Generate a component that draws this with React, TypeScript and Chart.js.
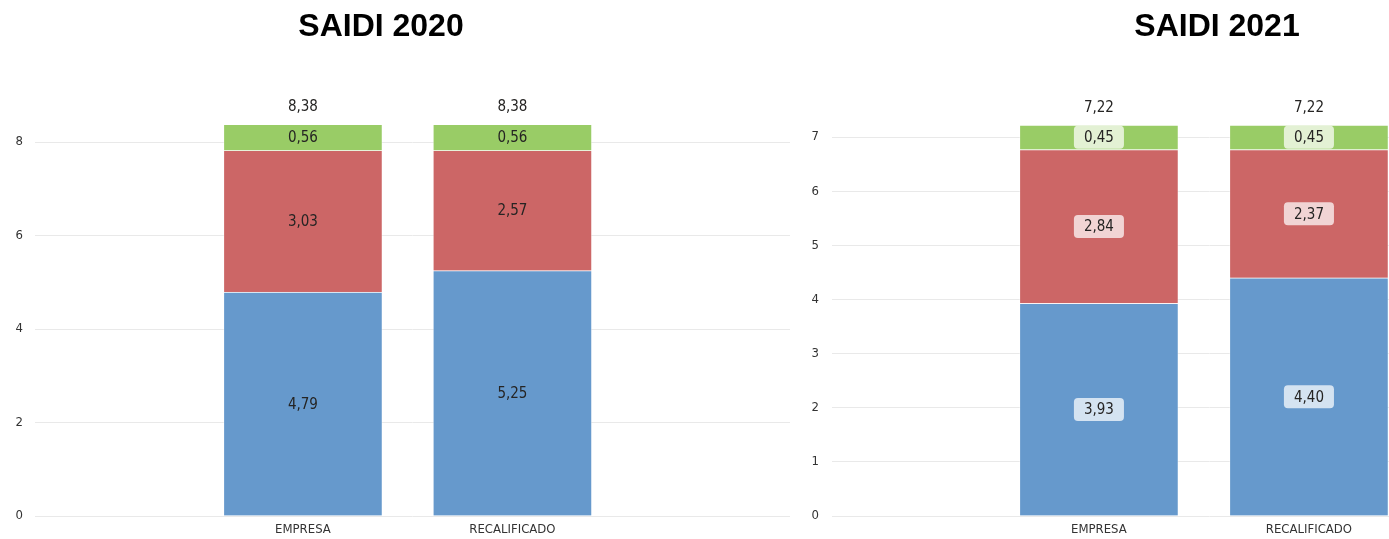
import React, { useEffect, useRef } from "react";
import { Chart, registerables } from "chart.js";

Chart.register(...registerables);

const categories = ["EMPRESA", "RECALIFICADO"];

const title2020 = "SAIDI 2020";
const blue2020 = [4.79, 5.25];
const red2020 = [3.03, 2.57];
const green2020 = [0.56, 0.56];
const yTicks2020 = [0, 2, 4, 6, 8];

const title2021 = "SAIDI 2021";
const blue2021 = [3.93, 4.4];
const red2021 = [2.84, 2.37];
const green2021 = [0.45, 0.45];
const yTicks2021 = [0, 1, 2, 3, 4, 5, 6, 7];

const FONT = "'DejaVu Sans Condensed', 'Liberation Sans Narrow', Roboto, sans-serif";
const COLORS = ["#6699cc", "#cc6666", "#99cc66"];

const fmt = (v: number) => v.toFixed(2).replace(".", ",");

function roundRect(ctx: CanvasRenderingContext2D, x: number, y: number, w: number, h: number, r: number) {
  ctx.beginPath();
  ctx.moveTo(x + r, y);
  ctx.lineTo(x + w - r, y);
  ctx.quadraticCurveTo(x + w, y, x + w, y + r);
  ctx.lineTo(x + w, y + h - r);
  ctx.quadraticCurveTo(x + w, y + h, x + w - r, y + h);
  ctx.lineTo(x + r, y + h);
  ctx.quadraticCurveTo(x, y + h, x, y + h - r);
  ctx.lineTo(x, y + r);
  ctx.quadraticCurveTo(x, y, x + r, y);
  ctx.closePath();
}

function makeLabelPlugin(boxed: boolean) {
  return {
    id: "segLabels",
    afterDatasetsDraw(chart: any) {
      const ctx: CanvasRenderingContext2D = chart.ctx;
      ctx.save();
      ctx.font = `15px ${FONT}`;
      ctx.textAlign = "center";
      ctx.textBaseline = "middle";
      const tops: number[] = [];
      const totals: number[] = [];
      const xs: number[] = [];
      chart.data.datasets.forEach((ds: any, di: number) => {
        const meta = chart.getDatasetMeta(di);
        meta.data.forEach((el: any, i: number) => {
          const v = ds.data[i].y;
          const cy = (el.y + el.base) / 2;
          const txt = fmt(v);
          if (boxed) {
            const w = ctx.measureText(txt).width + 20;
            const h = 23;
            ctx.fillStyle = "rgba(255,255,255,0.72)";
            roundRect(ctx, el.x - w / 2, cy - h / 2, w, h, 4);
            ctx.fill();
          }
          ctx.fillStyle = "#252423";
          ctx.fillText(txt, el.x, cy + 1);
          tops[i] = tops[i] === undefined ? el.y : Math.min(tops[i], el.y);
          totals[i] = (totals[i] || 0) + v;
          xs[i] = el.x;
        });
      });
      ctx.fillStyle = "#252423";
      tops.forEach((t, i) => {
        ctx.fillText(fmt(totals[i]), xs[i], t - 17);
      });
      ctx.restore();
    },
  };
}

type Cfg = {
  blue: number[];
  red: number[];
  green: number[];
  yTicks: number[];
  yMax: number;
  padTop: number;
  yAxisWidth: number;
  yPad: number;
  xMin: number;
  xMax: number;
  boxed: boolean;
};

function StackChart(props: Cfg & { style: React.CSSProperties; width: number; height: number }) {
  const ref = useRef<HTMLCanvasElement | null>(null);
  useEffect(() => {
    if (!ref.current) return;
    const series = [props.blue, props.red, props.green];
    const chart = new Chart(ref.current, {
      type: "bar",
      data: {
        datasets: series.map((s, si) => ({
          label: ["s1", "s2", "s3"][si],
          data: s.map((v, i) => ({ x: i, y: v })),
          backgroundColor: COLORS[si],
          borderColor: "rgba(255,255,255,0.35)",
          borderWidth: 1,
          barThickness: 159,
        })),
      } as any,
      options: {
        responsive: false,
        animation: false,
        layout: { padding: { top: props.padTop, right: 0, left: 0, bottom: 0 } },
        plugins: { legend: { display: false }, tooltip: { enabled: false } },
        scales: {
          x: {
            type: "linear",
            stacked: true,
            offset: false,
            min: props.xMin,
            max: props.xMax,
            grid: { display: false, drawTicks: false },
            border: { display: false },
            afterBuildTicks: (scale: any) => {
              scale.ticks = categories.map((_, i) => ({ value: i }));
            },
            afterFit: (scale: any) => {
              scale.height = 23;
            },
            ticks: {
              padding: 6,
              maxRotation: 0,
              autoSkip: false,
              color: "#333333",
              font: { family: FONT, size: 13 },
              callback: (v: any) => categories[Math.round(Number(v))] ?? "",
            },
          },
          y: {
            stacked: true,
            min: 0,
            max: props.yMax,
            grid: { color: "#e9e9e9", lineWidth: 1, drawTicks: false },
            border: { display: false },
            afterBuildTicks: (scale: any) => {
              scale.ticks = props.yTicks.map((v) => ({ value: v }));
            },
            afterFit: (scale: any) => {
              scale.width = props.yAxisWidth;
            },
            ticks: {
              padding: props.yPad,
              color: "#333333",
              font: { family: FONT, size: 13 },
            },
          },
        },
      } as any,
      plugins: [makeLabelPlugin(props.boxed)],
    });
    return () => chart.destroy();
  }, []);
  return <canvas ref={ref} width={props.width} height={props.height} style={props.style} />;
}

const titleStyle = (cx: number): React.CSSProperties => ({
  position: "absolute",
  left: cx - 200,
  top: 9,
  width: 400,
  textAlign: "center",
  fontFamily: "'Liberation Sans', Arial, sans-serif",
  fontWeight: "bold",
  fontSize: 32,
  lineHeight: "32px",
  color: "#000",
  zIndex: 2,
});

export default function App() {
  return (
    <div
      style={{
        position: "fixed",
        left: 0,
        top: 0,
        width: 1389,
        height: 539,
        overflow: "hidden",
        background: "#fff",
      }}
    >
      <div style={titleStyle(381)}>{title2020}</div>
      <div style={titleStyle(1217)}>{title2021}</div>
      <StackChart
        style={{ position: "absolute", left: 0, top: 0 }}
        width={790}
        height={539}
        blue={blue2020}
        red={red2020}
        green={green2020}
        yTicks={yTicks2020}
        yMax={9}
        padTop={95.25}
        yAxisWidth={35}
        yPad={12}
        xMin={-1.279}
        xMax={2.325}
        boxed={false}
      />
      <StackChart
        style={{ position: "absolute", left: 800, top: 0 }}
        width={787}
        height={539}
        blue={blue2021}
        red={red2021}
        green={green2021}
        yTicks={yTicks2021}
        yMax={7.5}
        padTop={110}
        yAxisWidth={32}
        yPad={13}
        xMin={-1.271}
        xMax={2.324}
        boxed={true}
      />
    </div>
  );
}
